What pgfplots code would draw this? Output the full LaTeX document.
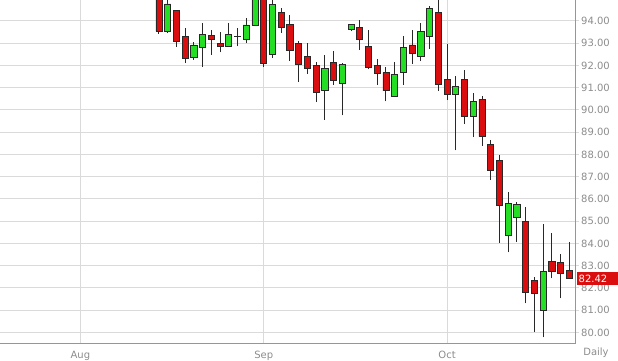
\documentclass[border=0pt]{standalone}
\usepackage{fontspec}
\setmainfont{DejaVu Sans}
\usepackage{pgfplots}
\usepackage{pgfplotstable}
\pgfplotsset{compat=1.18}
\definecolor{cred}{RGB}{218,14,14}
\definecolor{cgreen}{RGB}{36,222,36}
\definecolor{gridc}{RGB}{218,218,218}
\definecolor{axc}{RGB}{150,150,150}
\definecolor{txtc}{RGB}{140,140,140}
\definecolor{edgec}{RGB}{40,40,40}

\pgfplotstableread{
i o h l c
0 95.20 95.40 93.42 93.53
1 93.53 95.00 93.44 94.76
2 94.46 94.50 92.82 93.09
3 93.30 93.69 92.10 92.32
4 92.37 93.06 92.25 92.92
5 92.79 93.89 91.92 93.40
6 93.35 93.57 92.49 93.15
7 92.97 93.49 92.59 92.86
8 92.86 93.89 92.82 93.40
9 93.30 93.69 92.85 93.32
10 93.15 94.13 93.00 93.82
11 93.82 95.50 93.78 95.30
12 95.60 95.80 91.92 92.07
13 92.48 95.00 92.34 94.73
14 94.36 94.58 93.46 93.71
15 93.83 94.28 92.22 92.67
16 93.00 93.09 91.25 92.04
17 92.41 93.01 91.62 91.87
18 91.98 92.17 90.35 90.80
19 90.86 92.48 89.56 91.87
20 92.13 92.67 91.14 91.32
21 91.17 92.10 89.75 92.04
22 93.64 93.83 93.53 93.83
23 93.69 94.04 92.70 93.15
24 92.86 93.60 91.82 91.92
25 91.98 92.30 91.13 91.62
26 91.68 91.95 90.38 90.86
27 90.62 92.14 90.57 91.59
28 91.67 93.31 91.13 92.82
29 92.92 93.57 92.07 92.52
30 92.41 93.89 92.19 93.53
31 93.30 94.69 92.74 94.58
32 94.37 95.00 90.84 91.14
33 91.38 92.97 90.46 90.70
34 90.70 91.53 88.18 91.04
35 91.38 91.80 89.38 89.72
36 89.72 90.75 88.78 90.37
37 90.46 90.61 88.38 88.80
38 88.45 88.63 86.84 87.26
39 87.74 87.96 84.03 85.70
40 84.34 86.29 83.60 85.79
41 85.17 85.85 84.07 85.76
42 84.99 85.64 81.31 81.78
43 82.32 82.50 80.04 81.76
44 81.01 84.85 79.78 82.73
45 83.17 84.45 82.43 82.73
46 83.13 83.52 81.53 82.67
47 82.80 84.07 82.40 82.42
}\ohlc

\pgfplotsset{
  base/.style={scale only axis, width=575pt, height=344pt, at={(0pt,17pt)},
    anchor=south west, xmin=-18.21, xmax=47.65, ymin=79.479, ymax=94.94}
}

\begin{document}
\begin{tikzpicture}
\useasboundingbox (0,0) rectangle (618pt,361pt);
\begin{axis}[base,
  axis x line*=bottom, axis y line*=right,
  axis line style={-, draw=axc, line width=1pt},
  xtick={-9,12,33}, xticklabels={Aug,Sep,Oct},
  ytick={80,81,...,94},
  xmajorgrids, ymajorgrids,
  grid style={draw=gridc, line width=1pt},
  major x tick style={draw=none},
  tick align=outside, major tick length=4pt,
  major y tick style={draw=gridc, line width=1pt},
  tick label style={font=\fontsize{10}{12}\selectfont, text=txtc},
  yticklabel style={anchor=west, inner sep=0pt, xshift=2pt},
  /pgf/number format/fixed, /pgf/number format/fixed zerofill,
  /pgf/number format/precision=2, /pgf/number format/assume math mode=true,
]
\addplot[draw=none, mark=none, error bars/.cd, y dir=plus, y explicit, error mark=none,
  error bar style={draw=edgec, line width=1pt}]
  table[x=i, y=l, y error expr=\thisrow{h}-\thisrow{l}] {\ohlc};
\coordinate (last) at (axis cs:47.65,82.42);
\end{axis}
\begin{axis}[base, hide axis, ybar stacked, bar width=0.7]
\addplot[draw=none, fill=none] table[x=i, y expr={min(\thisrow{o},\thisrow{c})}] {\ohlc};
\addplot[fill=cred, draw=edgec, line width=0.8pt] table[x=i, y expr={(\thisrow{o}>\thisrow{c}) ? (\thisrow{o}-\thisrow{c}) : 0}] {\ohlc};
\addplot[fill=cgreen, draw=edgec, line width=0.8pt] table[x=i, y expr={(\thisrow{o}>\thisrow{c}) ? 0 : (\thisrow{c}-\thisrow{o})}] {\ohlc};
\end{axis}
\fill[cred] ([xshift=1.7pt, yshift=-6.3pt]last) rectangle ([xshift=43pt, yshift=6.3pt]last);
\node[anchor=west, text=white, inner sep=0pt, font=\fontsize{10}{12}\selectfont] at ([xshift=3.5pt]last) {82.42};
\node[text=txtc, font=\fontsize{10}{12}\selectfont] at (596pt, 8pt) {Daily};
\end{tikzpicture}
\end{document}
